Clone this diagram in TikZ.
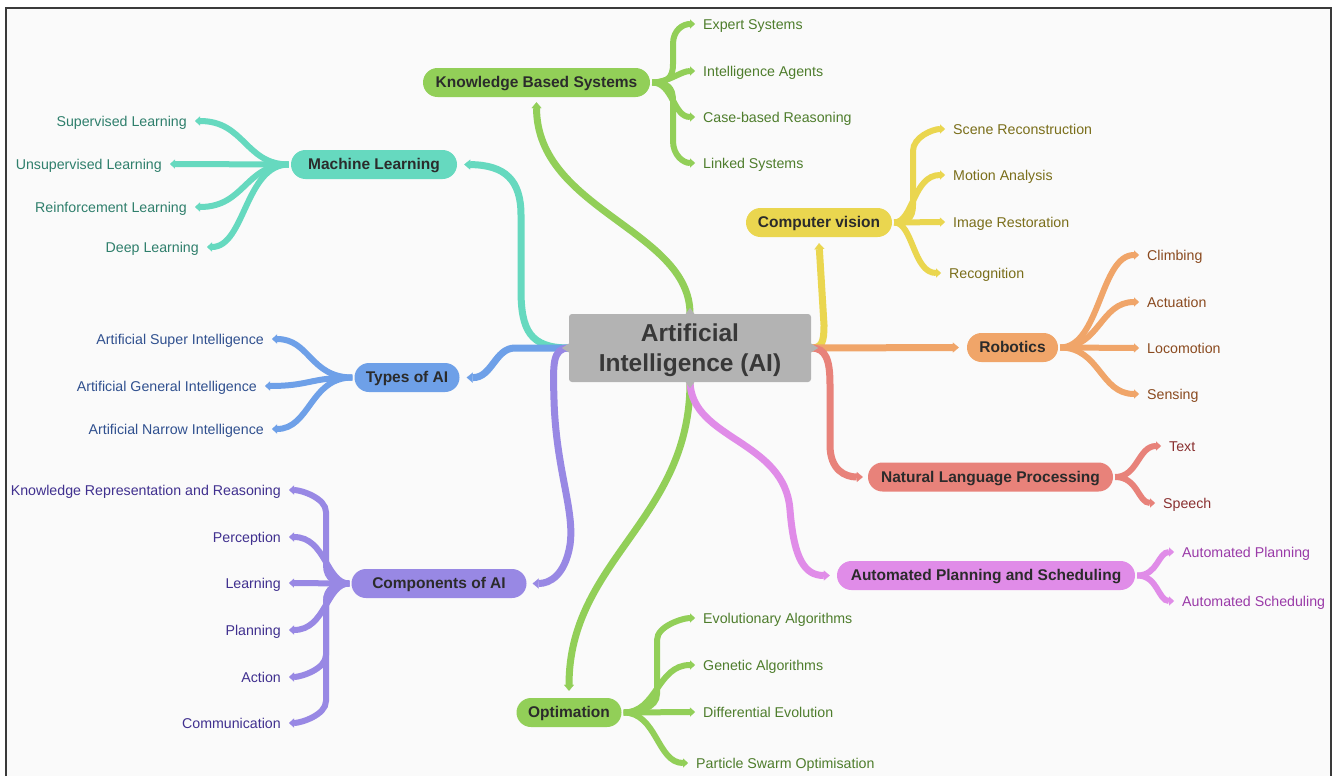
\documentclass[tikz,border=0pt]{standalone}
\usepackage{fontspec}
\setmainfont{Liberation Sans}
\usetikzlibrary{arrows.meta}
\definecolor{cGreen}{HTML}{92CF58}
\definecolor{tGreen}{HTML}{4E7D2C}
\definecolor{cTeal}{HTML}{66D9BF}
\definecolor{tTeal}{HTML}{2F7F6C}
\definecolor{cBlue}{HTML}{6EA0E8}
\definecolor{tBlue}{HTML}{30508F}
\definecolor{cPurple}{HTML}{9888E4}
\definecolor{tPurple}{HTML}{40308F}
\definecolor{cYellow}{HTML}{EAD64F}
\definecolor{tYellow}{HTML}{7A6E1A}
\definecolor{cOrange}{HTML}{F0A569}
\definecolor{tOrange}{HTML}{8A4A1F}
\definecolor{cRed}{HTML}{E8827A}
\definecolor{tRed}{HTML}{8A3030}
\definecolor{cPink}{HTML}{E08CE8}
\definecolor{tPink}{HTML}{9A3AA8}
\definecolor{cGray}{HTML}{B3B3B3}
\definecolor{aiText}{HTML}{383838}
\definecolor{nodeText}{HTML}{2B2B2B}
\definecolor{bgCol}{HTML}{FAFAFA}
\definecolor{frameCol}{HTML}{3A3A3A}
\begin{document}
\begin{tikzpicture}[x=1pt,y=-1pt,
  topic/.style={rounded corners=14.5pt, minimum height=29pt, inner sep=0pt,
    font=\fontsize{15.5}{18}\selectfont\bfseries, text=nodeText,
    text height=12.5pt, text depth=2.5pt},
  leafR/.style={anchor=west, inner sep=0pt, font=\fontsize{14.2}{17}\selectfont,
    text height=12.5pt, text depth=2pt},
  leafL/.style={leafR, anchor=east},
  mainc/.style={line width=7pt, -{Triangle[length=6pt,width=10pt,line width=0.1pt]}},
  br/.style={line width=6pt, -{Triangle[length=5pt,width=9pt,line width=0.1pt]}},
]
\useasboundingbox (0,0) rectangle (1335,776);
\fill[white] (0,0) rectangle (1335,776);
\fill[bgCol] (6,8) rectangle (1331,776);
\draw[line width=1.5pt, frameCol] (6,776) -- (6,8) -- (1331,8) -- (1331,776);

% central node
\node[fill=cGray, rounded corners=3pt, minimum width=242pt, minimum height=68pt,
  font=\fontsize{24.5}{29.5}\selectfont\bfseries, text=aiText, inner sep=0pt]
  (ai) at (690,348) {\raisebox{-2.5pt}[\height][\depth]{\begin{tabular}{@{}c@{}}Artificial\\Intelligence (AI)\end{tabular}}};

% topic nodes
\node[topic, fill=cGreen, minimum width=227pt] (kbs) at (536.5,82.5) {Knowledge Based Systems};
\node[topic, fill=cTeal, minimum width=166pt] (ml) at (374,164.5) {Machine Learning};
\node[topic, fill=cBlue, minimum width=105pt] (toa) at (407,377.5) {Types of AI};
\node[topic, fill=cPurple, minimum width=175pt] (coa) at (439,583.5) {Components of AI};
\node[topic, fill=cGreen, minimum width=105pt] (opt) at (569,712.5) {Optimation};
\node[topic, fill=cYellow, minimum width=146pt] (cv) at (819,222.5) {Computer vision};
\node[topic, fill=cOrange, minimum width=91pt] (rob) at (1012.5,347.5) {Robotics};
\node[topic, fill=cRed, minimum width=245pt] (nlp) at (990.5,477) {Natural Language Processing};
\node[topic, fill=cPink, minimum width=298pt] (aps) at (986,575.5) {Automated Planning and Scheduling};

% leaves
\begin{scope}[text=tGreen]
\node[leafR] (es) at (703,24) {Expert Systems};
\node[leafR] (ia) at (703,71) {Intelligence Agents};
\node[leafR] (cbr) at (703,117) {Case-based Reasoning};
\node[leafR] (ls) at (703,163) {Linked Systems};
\node[leafR] (ea) at (703,618) {Evolutionary Algorithms};
\node[leafR] (ga) at (703,665) {Genetic Algorithms};
\node[leafR] (de) at (703,712) {Differential Evolution};
\node[leafR] (pso) at (696,763) {Particle Swarm Optimisation};
\end{scope}
\begin{scope}[text=tTeal]
\node[leafL] (sl) at (187,121) {Supervised Learning};
\node[leafL] (ul) at (162,164) {Unsupervised Learning};
\node[leafL] (rl) at (187,207) {Reinforcement Learning};
\node[leafL] (dl) at (199,247) {Deep Learning};
\end{scope}
\begin{scope}[text=tBlue]
\node[leafL] (asi) at (264,339) {Artificial Super Intelligence};
\node[leafL] (agi) at (257,386) {Artificial General Intelligence};
\node[leafL] (ani) at (264,429) {Artificial Narrow Intelligence};
\end{scope}
\begin{scope}[text=tPurple]
\node[leafL] (krr) at (281,490) {Knowledge Representation and Reasoning};
\node[leafL] (per) at (281,537) {Perception};
\node[leafL] (lea) at (281,583) {Learning};
\node[leafL] (pla) at (281,630) {Planning};
\node[leafL] (act) at (281,677) {Action};
\node[leafL] (com) at (281,723) {Communication};
\end{scope}
\begin{scope}[text=tYellow]
\node[leafR] (sr) at (953,129) {Scene Reconstruction};
\node[leafR] (ma) at (953,175) {Motion Analysis};
\node[leafR] (ir) at (953,222) {Image Restoration};
\node[leafR] (rec) at (949,273) {Recognition};
\end{scope}
\begin{scope}[text=tOrange]
\node[leafR] (cl) at (1147,255) {Climbing};
\node[leafR] (ac) at (1147,302) {Actuation};
\node[leafR] (lo) at (1147,348) {Locomotion};
\node[leafR] (se) at (1147,394) {Sensing};
\end{scope}
\begin{scope}[text=tRed]
\node[leafR] (tx) at (1169,446) {Text};
\node[leafR] (sp) at (1163,503) {Speech};
\end{scope}
\begin{scope}[text=tPink]
\node[leafR] (apl) at (1182,552) {Automated Planning};
\node[leafR] (asc) at (1182,601) {Automated Scheduling};
\end{scope}

% main connectors
\draw[mainc, cGreen] (ai.north) .. controls (690,230) and (537,210) .. ([yshift=-5pt]kbs.south);
\draw[mainc, cTeal] (ai.west) .. controls (530,348) and (521,330) .. (521,290) -- (521,215)
  .. controls (521,180) and (505,165) .. ([xshift=7pt]ml.east);
\draw[mainc, cBlue] (ai.west) -- (515,348) .. controls (495,348) and (492,378) .. ([xshift=7pt]toa.east);
\draw[mainc, cPurple] (ai.west) .. controls (552,348) and (553,365) .. (554,400)
  .. controls (556,470) and (575,510) .. (570,545) .. controls (565,575) and (550,583.5) .. ([xshift=6pt]coa.east);
\draw[mainc, cGreen] (ai.south) .. controls (690,520) and (569,560) .. ([yshift=7pt]opt.north);
\draw[mainc, cYellow] (ai.east) .. controls (822,348) and (824,342) .. (824,325) -- ([yshift=-6pt]cv.south);
\draw[mainc, cOrange] (ai.east) -- ([xshift=-8pt]rob.west);
\draw[mainc, cRed] (ai.east) .. controls (826,348) and (830,360) .. (830,385) -- (830,445)
  .. controls (830,470) and (845,477) .. ([xshift=-5pt]nlp.west);
\draw[mainc, cPink] (ai.south) .. controls (692,440) and (785,440) .. (790,510)
  .. controls (794,560) and (805,575.5) .. ([xshift=-7pt]aps.west);

% KBS branches
\draw[br, cGreen] ([xshift=2pt]kbs.east) .. controls +(15,0) and +(0,14) .. (673,64) -- (673,44)
  .. controls +(0,-14) and +(-12,0) .. ([xshift=-8pt]es.west);
\draw[br, cGreen] ([xshift=2pt]kbs.east) .. controls +(16,0) and +(-14,0) .. ([xshift=-8pt]ia.west);
\draw[br, cGreen] ([xshift=2pt]kbs.east) .. controls (673,82.5) and (673,117) .. ([xshift=-8pt]cbr.west);
\draw[br, cGreen] ([xshift=2pt]kbs.east) .. controls +(15,0) and +(0,-14) .. (673,101) -- (673,141)
  .. controls +(0,14) and +(-12,0) .. ([xshift=-8pt]ls.west);

% ML branches
\draw[br, cTeal] ([xshift=-2pt]ml.west) .. controls (245,164.5) and (245,121) .. ([xshift=8pt]sl.east);
\draw[br, cTeal] ([xshift=-2pt]ml.west) -- ([xshift=8pt]ul.east);
\draw[br, cTeal] ([xshift=-2pt]ml.west) .. controls (245,164.5) and (245,207) .. ([xshift=8pt]rl.east);
\draw[br, cTeal] ([xshift=-2pt]ml.west) .. controls (245,164.5) and (245,247) .. ([xshift=8pt]dl.east);

% Types branches
\draw[br, cBlue] ([xshift=-2pt]toa.west) .. controls (310,377.5) and (310,339) .. ([xshift=8pt]asi.east);
\draw[br, cBlue] ([xshift=-2pt]toa.west) .. controls (310,377.5) and (310,386) .. ([xshift=8pt]agi.east);
\draw[br, cBlue] ([xshift=-2pt]toa.west) .. controls (310,377.5) and (310,429) .. ([xshift=8pt]ani.east);

% Components branches
\draw[br, cPurple] ([xshift=-2pt]coa.west) .. controls +(-14,0) and +(0,14) .. (326,565) -- (326,512)
  .. controls +(0,-14) and +(12,0) .. ([xshift=8pt]krr.east);
\draw[br, cPurple] ([xshift=-2pt]coa.west) .. controls (326,583.5) and (326,537) .. ([xshift=8pt]per.east);
\draw[br, cPurple] ([xshift=-2pt]coa.west) -- ([xshift=8pt]lea.east);
\draw[br, cPurple] ([xshift=-2pt]coa.west) .. controls (326,583.5) and (326,630) .. ([xshift=8pt]pla.east);
\draw[br, cPurple] ([xshift=-2pt]coa.west) .. controls +(-14,0) and +(0,-14) .. (326,602) -- (326,655)
  .. controls +(0,14) and +(12,0) .. ([xshift=8pt]act.east);
\draw[br, cPurple] ([xshift=-2pt]coa.west) .. controls +(-14,0) and +(0,-14) .. (326,602) -- (326,701)
  .. controls +(0,14) and +(12,0) .. ([xshift=8pt]com.east);

% Optimation branches
\draw[br, cGreen] ([xshift=2pt]opt.east) .. controls +(14,0) and +(0,14) .. (657,694) -- (657,640)
  .. controls +(0,-14) and +(-12,0) .. ([xshift=-8pt]ea.west);
\draw[br, cGreen] ([xshift=2pt]opt.east) .. controls (657,712.5) and (657,665) .. ([xshift=-8pt]ga.west);
\draw[br, cGreen] ([xshift=2pt]opt.east) -- ([xshift=-8pt]de.west);
\draw[br, cGreen] ([xshift=2pt]opt.east) .. controls (657,712.5) and (657,763) .. ([xshift=-8pt]pso.west);

% CV branches
\draw[br, cYellow] ([xshift=2pt]cv.east) .. controls +(12,0) and +(0,14) .. (913,205) -- (913,151)
  .. controls +(0,-14) and +(-12,0) .. ([xshift=-8pt]sr.west);
\draw[br, cYellow] ([xshift=2pt]cv.east) .. controls (913,222.5) and (913,175) .. ([xshift=-8pt]ma.west);
\draw[br, cYellow] ([xshift=2pt]cv.east) -- ([xshift=-8pt]ir.west);
\draw[br, cYellow] ([xshift=2pt]cv.east) .. controls (913,222.5) and (913,273) .. ([xshift=-8pt]rec.west);

% Robotics branches
\draw[br, cOrange] ([xshift=2pt]rob.east) .. controls (1100,347.5) and (1100,255) .. ([xshift=-8pt]cl.west);
\draw[br, cOrange] ([xshift=2pt]rob.east) .. controls (1100,347.5) and (1100,302) .. ([xshift=-8pt]ac.west);
\draw[br, cOrange] ([xshift=2pt]rob.east) -- ([xshift=-8pt]lo.west);
\draw[br, cOrange] ([xshift=2pt]rob.east) .. controls (1100,347.5) and (1100,394) .. ([xshift=-8pt]se.west);

% NLP branches
\draw[br, cRed] ([xshift=2pt]nlp.east) .. controls (1138,477) and (1138,446) .. ([xshift=-8pt]tx.west);
\draw[br, cRed] ([xshift=2pt]nlp.east) .. controls (1138,477) and (1138,503) .. ([xshift=-8pt]sp.west);

% APS branches
\draw[br, cPink] ([xshift=2pt]aps.east) .. controls (1158,575.5) and (1158,552) .. ([xshift=-8pt]apl.west);
\draw[br, cPink] ([xshift=2pt]aps.east) .. controls (1158,575.5) and (1158,601) .. ([xshift=-8pt]asc.west);

% ports of the central node
\fill[cGray] ([yshift=5pt,xshift=1pt]ai.west) -- ([xshift=-7pt]ai.west) -- ([yshift=-5pt,xshift=1pt]ai.west) -- cycle;
\fill[cGray] ([yshift=5pt,xshift=-1pt]ai.east) -- ([xshift=7pt]ai.east) -- ([yshift=-5pt,xshift=-1pt]ai.east) -- cycle;
\fill[cGray] ([xshift=-5pt,yshift=-1pt]ai.north) -- ([yshift=6pt]ai.north) -- ([xshift=5pt,yshift=-1pt]ai.north) -- cycle;
\fill[cGray] ([xshift=-5pt,yshift=1pt]ai.south) -- ([yshift=-6pt]ai.south) -- ([xshift=5pt,yshift=1pt]ai.south) -- cycle;
\end{tikzpicture}
\end{document}
